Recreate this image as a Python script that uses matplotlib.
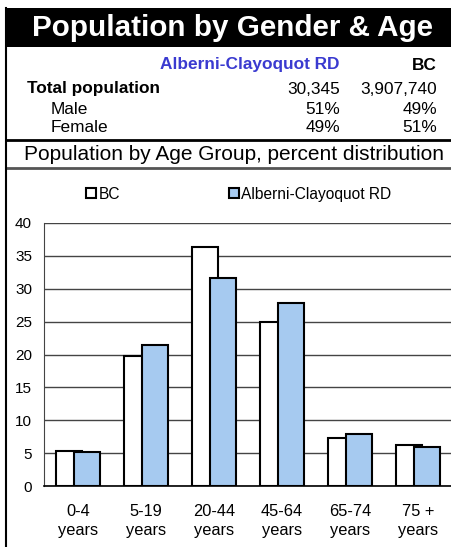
import matplotlib
matplotlib.use("Agg")
import matplotlib.pyplot as plt
from matplotlib.patches import Rectangle
from matplotlib.lines import Line2D

plt.rcParams['font.family'] = ['Liberation Sans', 'DejaVu Sans']

# data
ages = ["0-4\nyears", "5-19\nyears", "20-44\nyears", "45-64\nyears", "65-74\nyears", "75 +\nyears"]
bc = [5.3, 19.8, 36.3, 25.0, 7.3, 6.3]
region = [5.1, 21.5, 31.6, 27.8, 7.9, 6.0]

region_name = "Alberni-Clayoquot RD"
row_labels = ["Total population", "Male", "Female"]
region_vals = ["30,345", "51%", "49%"]
bc_vals = ["3,907,740", "49%", "51%"]

W, H = 452, 547
fig = plt.figure(figsize=(W / 100, H / 100), dpi=100)

def fx(px):
    return px / W

def fy(py):
    return 1 - py / H

# header bar
fig.patches.append(Rectangle((fx(6), fy(47)), fx(446), 39 / H, transform=fig.transFigure,
                             facecolor="black", edgecolor="none"))
fig.text(fx(233), fy(28), "Population by Gender & Age", color="white", fontsize=21.3,
         fontweight="bold", ha="center", va="center")

# summary table
fs = 12.4
fig.text(fx(340), fy(65), region_name, color="#3a3ad0", fontsize=fs, fontweight="bold",
         ha="right", va="center")
fig.text(fx(437), fy(65), "BC", fontsize=fs, fontweight="bold", ha="right", va="center")
row_y = [89, 110, 128]
for i, lab in enumerate(row_labels):
    if i == 0:
        fig.text(fx(27), fy(row_y[i]), lab, fontsize=fs, fontweight="bold", va="center")
    else:
        fig.text(fx(51), fy(row_y[i]), lab, fontsize=fs, va="center")
    fig.text(fx(340), fy(row_y[i]), region_vals[i], fontsize=fs, ha="right", va="center")
    fig.text(fx(437), fy(row_y[i]), bc_vals[i], fontsize=fs, ha="right", va="center")

# rules and frame
fig.lines.append(Line2D([fx(6), fx(452)], [fy(140), fy(140)], transform=fig.transFigure,
                        color="black", lw=2))
fig.lines.append(Line2D([fx(6), fx(452)], [fy(168), fy(168)], transform=fig.transFigure,
                        color="#555555", lw=2))
fig.lines.append(Line2D([fx(6.5), fx(6.5)], [fy(8), fy(547)], transform=fig.transFigure,
                        color="black", lw=1.5))
fig.text(fx(234), fy(155), "Population by Age Group, percent distribution", fontsize=15,
         ha="center", va="center")

# bar chart
ax = fig.add_axes([fx(44), fy(486), fx(408), 263 / H])
x = list(range(len(ages)))
w = 0.38
ax.bar([i - 0.137 for i in x], bc, width=w, color="white", edgecolor="black", lw=1.5,
       label="BC", zorder=3)
ax.bar([i + 0.137 for i in x], region, width=w, color="#a6caf0", edgecolor="black", lw=1.5,
       label=region_name, zorder=4)
ax.set_xlim(-0.5, 5.5)
ax.set_ylim(0, 40)
ax.set_yticks(range(0, 41, 5))
ax.set_xticks(x)
ax.set_xticklabels(ages, linespacing=1.3)
ax.tick_params(length=0)
ax.tick_params(axis="y", pad=8.6, labelsize=11)
ax.tick_params(axis="x", pad=13, labelsize=11.8)
ax.yaxis.grid(True, color="#444444", lw=1)
ax.set_axisbelow(True)
for s in ["top", "right"]:
    ax.spines[s].set_visible(False)
ax.spines["left"].set_color("#444444")
ax.spines["bottom"].set_color("black")
ax.spines["bottom"].set_linewidth(1.2)

ax.legend(loc="center", bbox_to_anchor=(0.477, 1.11), ncol=2, frameon=False, fontsize=11.2,
          handlelength=0.65, handleheight=0.65, handletextpad=0.15, columnspacing=7.0)

fig.savefig("out.png", dpi=100)
